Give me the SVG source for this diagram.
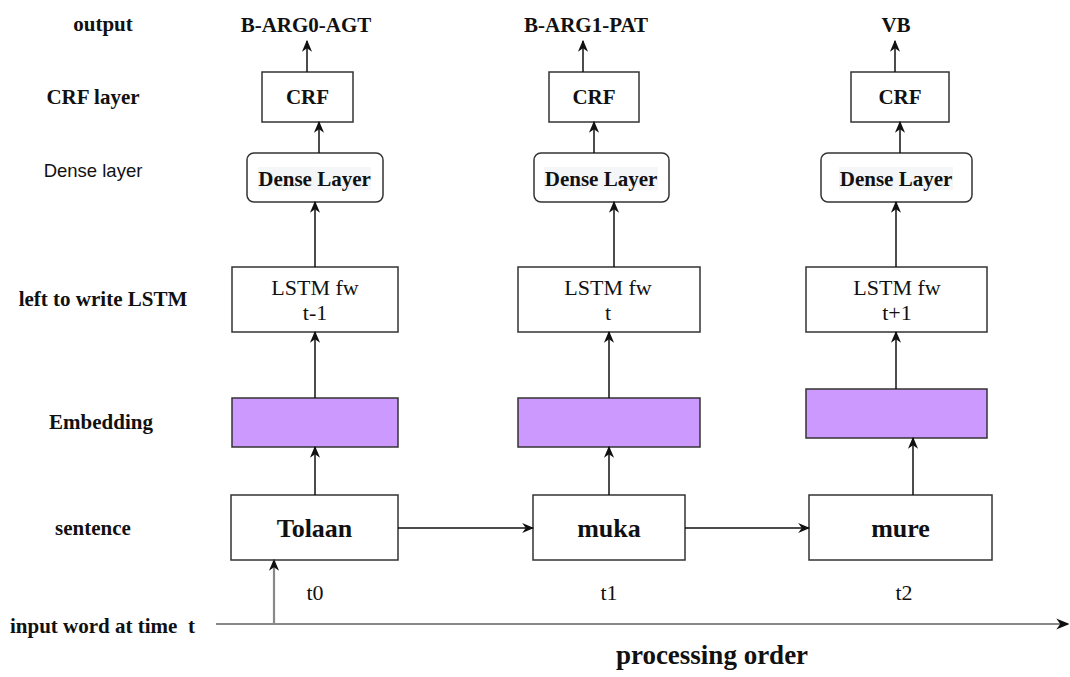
<svg xmlns="http://www.w3.org/2000/svg" width="1070" height="677" viewBox="0 0 1070 677">
  <style>
    .lbl { font-family: "Liberation Serif", "Times New Roman", serif; font-weight: bold; font-size: 21px; fill: #111; }
    .big { font-size: 27px; }
    .sans { font-family: "Liberation Sans", Arial, sans-serif; font-size: 18.5px; fill: #111; }
    .reg { font-family: "Liberation Serif", "Times New Roman", serif; font-size: 22px; fill: #111; }
    .word { font-family: "Liberation Serif", "Times New Roman", serif; font-weight: bold; font-size: 26px; fill: #111; }
    .box { fill: #fff; stroke: #333; stroke-width: 1.5; }
    .emb { fill: #CC99FF; stroke: #333; stroke-width: 1.5; }
    .hl { fill: #f4f6f8; }
    .link { fill: none; stroke: #111; stroke-width: 1.5; }
    .axis { fill: none; stroke: #888; stroke-width: 2.2; }
  </style>
  <defs>
    <marker id="arrow" viewBox="0 0 10 10" refX="9" refY="5" markerWidth="12" markerHeight="12" markerUnits="userSpaceOnUse" orient="auto">
      <path d="M0,0.8 L10,5 L0,9.2 L3,5 Z" fill="#111"/>
    </marker>
    <marker id="arrow-big" viewBox="0 0 10 10" refX="9" refY="5" markerWidth="13" markerHeight="13" markerUnits="userSpaceOnUse" orient="auto">
      <path d="M0,0.8 L10,5 L0,9.2 L3,5 Z" fill="#111"/>
    </marker>
  </defs>
  <rect width="1070" height="677" fill="#fff"/>

  <!-- row captions -->
  <g id="captions">
    <text class="lbl" x="103" y="31" text-anchor="middle">output</text>
    <text class="lbl" x="93" y="104" text-anchor="middle">CRF layer</text>
    <text class="sans" x="93" y="177" text-anchor="middle">Dense layer</text>
    <text class="lbl" x="103" y="306" text-anchor="middle">left to write LSTM</text>
    <text class="lbl" x="101" y="429" text-anchor="middle">Embedding</text>
    <text class="lbl" x="93" y="535" text-anchor="middle">sentence</text>
    <text class="lbl" x="10" y="633" style="white-space:pre">input word at time  t</text>
    <text class="lbl big" x="712" y="664" text-anchor="middle">processing order</text>
  </g>

  <!-- output tags -->
  <g id="out-0"><text class="lbl" x="306" y="32" text-anchor="middle">B-ARG0-AGT</text></g>
  <g id="out-1"><text class="lbl" x="586" y="32" text-anchor="middle">B-ARG1-PAT</text></g>
  <g id="out-2"><text class="lbl" x="896" y="32" text-anchor="middle">VB</text></g>

  <!-- CRF boxes -->
  <g id="crf-0"><rect class="box" x="262" y="72" width="91" height="50"/><text class="lbl" x="307.5" y="104" text-anchor="middle">CRF</text></g>
  <g id="crf-1"><rect class="box" x="549" y="72" width="90" height="50"/><text class="lbl" x="594" y="104" text-anchor="middle">CRF</text></g>
  <g id="crf-2"><rect class="box" x="851" y="72" width="98" height="50"/><text class="lbl" x="900" y="104" text-anchor="middle">CRF</text></g>

  <!-- dense layers -->
  <g id="dense-0"><rect class="box" x="247" y="153" width="136" height="49" rx="7"/><rect class="hl" x="258" y="167" width="113" height="23"/><text class="lbl" x="314.5" y="186" text-anchor="middle">Dense Layer</text></g>
  <g id="dense-1"><rect class="box" x="534" y="153" width="135" height="49" rx="7"/><rect class="hl" x="544" y="167" width="114" height="23"/><text class="lbl" x="601" y="186" text-anchor="middle">Dense Layer</text></g>
  <g id="dense-2"><rect class="box" x="821" y="153" width="151" height="49" rx="7"/><rect class="hl" x="839" y="167" width="114" height="23"/><text class="lbl" x="896" y="186" text-anchor="middle">Dense Layer</text></g>

  <!-- LSTM cells -->
  <g id="lstm-0"><rect class="box" x="232" y="267" width="166" height="65"/><text class="reg" x="315" y="295" text-anchor="middle">LSTM fw</text><text class="reg" x="315" y="320" text-anchor="middle">t-1</text></g>
  <g id="lstm-1"><rect class="box" x="518" y="267" width="182" height="65"/><text class="reg" x="608" y="295" text-anchor="middle">LSTM fw</text><text class="reg" x="608" y="320" text-anchor="middle">t</text></g>
  <g id="lstm-2"><rect class="box" x="806" y="267" width="181" height="65"/><text class="reg" x="897" y="295" text-anchor="middle">LSTM fw</text><text class="reg" x="897" y="320" text-anchor="middle">t+1</text></g>

  <!-- embeddings -->
  <g id="emb-0"><rect class="emb" x="232" y="398" width="166" height="49"/></g>
  <g id="emb-1"><rect class="emb" x="518" y="398" width="182" height="49"/></g>
  <g id="emb-2"><rect class="emb" x="806" y="389" width="181" height="49"/></g>

  <!-- words -->
  <g id="word-0"><rect class="box" x="231" y="495" width="167" height="65"/><text class="word" x="314.5" y="537" text-anchor="middle">Tolaan</text></g>
  <g id="word-1"><rect class="box" x="533" y="495" width="152" height="65"/><text class="word" x="609" y="537" text-anchor="middle">muka</text></g>
  <g id="word-2"><rect class="box" x="809" y="495" width="183" height="65"/><text class="word" x="900.5" y="537" text-anchor="middle">mure</text></g>

  <!-- time steps -->
  <g id="steps">
    <text class="reg" x="315" y="600" text-anchor="middle">t0</text>
    <text class="reg" x="609" y="600" text-anchor="middle">t1</text>
    <text class="reg" x="904" y="600" text-anchor="middle">t2</text>
  </g>

  <!-- connectors -->
  <g id="connectors">
    <line class="link" x1="307" y1="72" x2="307" y2="41" marker-end="url(#arrow)"/>
    <line class="link" x1="583" y1="72" x2="583" y2="41" marker-end="url(#arrow)"/>
    <line class="link" x1="895" y1="72" x2="895" y2="41" marker-end="url(#arrow)"/>

    <line class="link" x1="319" y1="153" x2="319" y2="122" marker-end="url(#arrow)"/>
    <line class="link" x1="594" y1="153" x2="594" y2="122" marker-end="url(#arrow)"/>
    <line class="link" x1="900" y1="153" x2="900" y2="122" marker-end="url(#arrow)"/>

    <line class="link" x1="315" y1="267" x2="315" y2="202" marker-end="url(#arrow)"/>
    <line class="link" x1="614" y1="267" x2="614" y2="202" marker-end="url(#arrow)"/>
    <line class="link" x1="896" y1="267" x2="896" y2="202" marker-end="url(#arrow)"/>

    <line class="link" x1="315" y1="398" x2="315" y2="332" marker-end="url(#arrow)"/>
    <line class="link" x1="609" y1="398" x2="609" y2="332" marker-end="url(#arrow)"/>
    <line class="link" x1="896" y1="389" x2="896" y2="332" marker-end="url(#arrow)"/>

    <line class="link" x1="315" y1="495" x2="315" y2="447" marker-end="url(#arrow)"/>
    <line class="link" x1="609" y1="495" x2="609" y2="447" marker-end="url(#arrow)"/>
    <line class="link" x1="913" y1="495" x2="913" y2="438" marker-end="url(#arrow)"/>

    <line class="link" x1="398" y1="528" x2="533" y2="528" marker-end="url(#arrow)"/>
    <line class="link" x1="685" y1="528" x2="809" y2="528" marker-end="url(#arrow)"/>

    <line class="axis" x1="274" y1="624" x2="274" y2="560" marker-end="url(#arrow)"/>
    <line class="axis" x1="216" y1="624" x2="1068" y2="624" marker-end="url(#arrow-big)"/>
  </g>
</svg>
